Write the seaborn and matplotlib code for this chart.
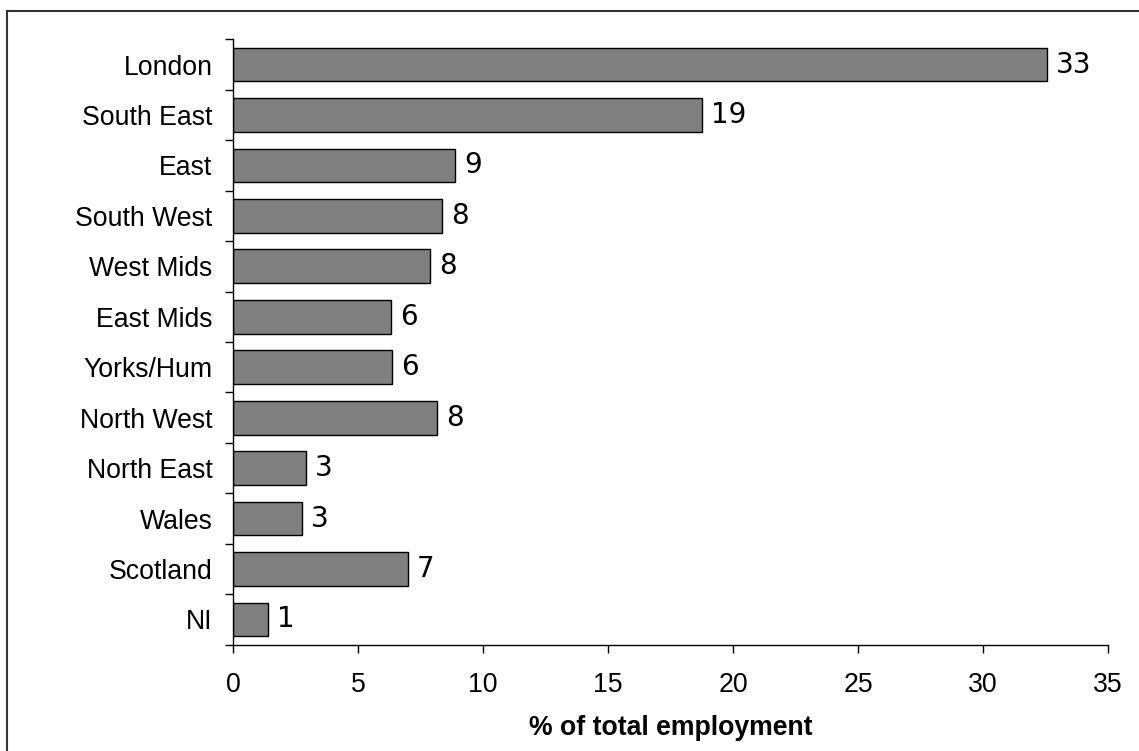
import numpy as np
import pandas as pd
import matplotlib
matplotlib.use("Agg")
import matplotlib.pyplot as plt
from matplotlib.patches import Rectangle
from matplotlib.ticker import FixedLocator
import seaborn as sns

regions = ["London", "South East", "East", "South West", "West Mids", "East Mids",
           "Yorks/Hum", "North West", "North East", "Wales", "Scotland", "NI"]
share = [32.55, 18.76, 8.86, 8.35, 7.87, 6.30, 6.35, 8.15, 2.92, 2.73, 6.98, 1.39]
x_ticks = [0, 5, 10, 15, 20, 25, 30, 35]

df = pd.DataFrame({"region": regions, "share": share})

sns.set_theme(style="white")
plt.rcParams["font.family"] = ["Liberation Sans", "DejaVu Sans"]

W, H = 1139, 751
fig = plt.figure(figsize=(W / 100, H / 100), dpi=100)
ax = fig.add_axes([233.3 / W, 1 - 644.7 / H, (1108 - 233.3) / W, (644.7 - 39.3) / H])

sns.barplot(data=df, x="share", y="region", orient="h", color="#808080",
            edgecolor="black", linewidth=1.0, width=0.67, saturation=1, ax=ax)

ax.set_xlim(0, 35)
ax.set_ylim(len(regions) - 0.5, -0.5)
ax.set_xticks(x_ticks)
ax.set_xticklabels([str(t) for t in x_ticks])

# category boundaries marked by outward ticks on the y axis
ax.yaxis.set_minor_locator(FixedLocator(np.arange(-0.5, len(regions), 1.0)))
ax.tick_params(axis="y", which="major", length=0, pad=15, labelsize=19.2, colors="black")
ax.tick_params(axis="y", which="minor", left=True, length=6, width=1.0, color="black")
ax.tick_params(axis="x", which="major", bottom=True, length=6, width=1.0, color="black",
               pad=14, labelsize=19.2, labelcolor="black")

for side in ("top", "right"):
    ax.spines[side].set_visible(False)
for side in ("left", "bottom"):
    ax.spines[side].set_color("black")
    ax.spines[side].set_linewidth(1.0)

ax.set_ylabel("")
ax.set_xlabel("% of total employment", fontsize=19.2, fontweight="bold",
              color="black", labelpad=12)

labels = [str(int(np.floor(v + 0.5))) for v in share]
ax.bar_label(ax.containers[0], labels=labels, padding=6.5, fontsize=20,
             family=["DejaVu Sans Condensed", "DejaVu Sans"], color="black")

# outer frame around the chart area
fig.add_artist(Rectangle((7 / W, -0.1), 1.2, 1.1 - 11 / H, transform=fig.transFigure,
                         fill=False, edgecolor="#333333", linewidth=1.5))

fig.savefig("out.png", dpi=100)
